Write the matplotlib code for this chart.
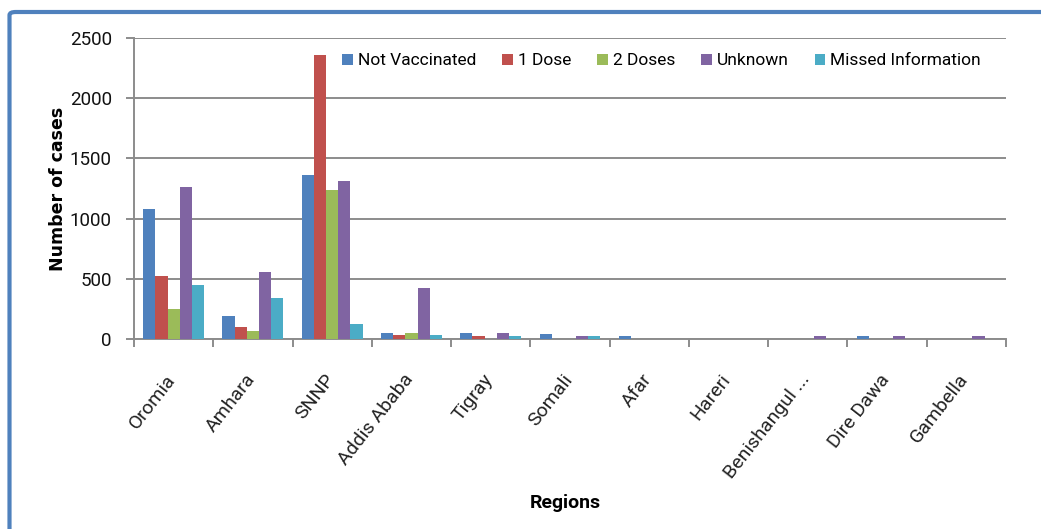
import numpy as np
import matplotlib.pyplot as plt
import matplotlib.transforms as mtransforms
from matplotlib.patches import FancyBboxPatch
from matplotlib.ticker import FixedLocator, NullFormatter

regions = ['Oromia', 'Amhara', 'SNNP', 'Addis Ababa', 'Tigray', 'Somali', 'Afar',
           'Hareri', 'Benishangul ...', 'Dire Dawa', 'Gambella']

not_vaccinated = [1080, 189, 1362, 50, 50, 38, 20, 0, 0, 20, 0]
one_dose = [522, 96, 2361, 33, 22, 0, 0, 0, 0, 0, 0]
two_doses = [247, 67, 1237, 50, 0, 0, 0, 0, 0, 0, 0]
unknown = [1260, 553, 1315, 424, 50, 22, 0, 0, 20, 20, 20]
missed_info = [446, 340, 122, 33, 22, 22, 0, 0, 0, 0, 0]

series = [('Not Vaccinated', not_vaccinated, '#4F81BD'),
          ('1 Dose', one_dose, '#C0504D'),
          ('2 Doses', two_doses, '#9BBB59'),
          ('Unknown', unknown, '#8064A2'),
          ('Missed Information', missed_info, '#4BACC6')]

narrow = ['Roboto', 'DejaVu Sans']

fig = plt.figure(figsize=(10.41, 5.29), dpi=100)
ax = fig.add_axes([0.1287, 0.3597, 0.8377, 0.5679])

x = np.arange(len(regions))
w = 1 / 6.5
for i, (name, vals, col) in enumerate(series):
    ax.bar(x + (i - 2) * w, vals, w, color=col, label=name, zorder=3)

ax.set_xlim(-0.5, len(regions) - 0.5)
ax.set_ylim(0, 2500)
ax.set_yticks(np.arange(0, 2501, 500))
ax.yaxis.grid(True, color='#8C8C8C', lw=1.4, zorder=0)
for s in ['top', 'right']:
    ax.spines[s].set_visible(False)
for s in ['left', 'bottom']:
    ax.spines[s].set_color('#8C8C8C')
    ax.spines[s].set_linewidth(1.4)

# category separators as major ticks, names on minor ticks
ax.xaxis.set_major_locator(FixedLocator(np.arange(-0.5, len(regions), 1)))
ax.xaxis.set_major_formatter(NullFormatter())
ax.xaxis.set_minor_locator(FixedLocator(x))
ax.set_xticklabels(regions, minor=True)
ax.tick_params(axis='x', which='major', length=6, width=1.4, color='#8C8C8C')
ax.tick_params(axis='x', which='minor', length=0, pad=23)
ax.tick_params(axis='y', length=6, width=1.4, color='#8C8C8C', pad=10)

shift = mtransforms.ScaledTranslation(6 / 100, 0, fig.dpi_scale_trans)
for lbl in ax.get_xticklabels(minor=True):
    lbl.set_rotation(52)
    lbl.set_ha('right')
    lbl.set_va('top')
    lbl.set_family(narrow)
    lbl.set_fontsize(14)
    lbl.set_color('#222222')
    lbl.set_transform(lbl.get_transform() + shift)
for lbl in ax.get_yticklabels():
    lbl.set_family(narrow)
    lbl.set_fontsize(13.5)
    lbl.set_color('#111111')

ax.set_ylabel('Number of cases', fontsize=12.5, fontweight='bold', family='DejaVu Sans')
ax.yaxis.set_label_coords(-0.077, 0.5)
fig.text(0.543, 0.05, 'Regions', ha='center', va='center', fontsize=14,
         fontweight='bold', family=narrow)

leg = ax.legend(ncol=5, loc='center', bbox_to_anchor=(0.605, 0.925), frameon=False,
                handlelength=0.6, handleheight=0.6, handletextpad=0.3,
                columnspacing=1.5, prop={'family': narrow, 'size': 12.5})

# blue frame around the chart area
frame = FancyBboxPatch((9.5 / 1041, -0.2), 1.2, 1.2 - 12 / 529,
                       boxstyle='round,pad=0,rounding_size=0.006',
                       transform=fig.transFigure, fill=False,
                       edgecolor='#4F81BD', lw=3)
fig.add_artist(frame)

fig.savefig('out.png', dpi=100)
